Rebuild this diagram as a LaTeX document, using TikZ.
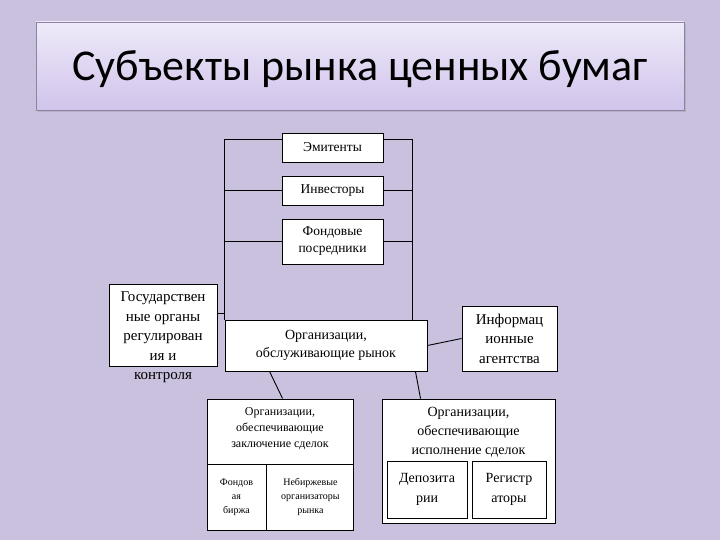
\documentclass[tikz,border=0pt]{standalone}
\usepackage{fontspec}
\setmainfont{Liberation Serif}
\newfontfamily\titlefont{Carlito}
\usetikzlibrary{positioning,shadows,calc}
\definecolor{slidebg}{HTML}{C9C1DD}
\definecolor{titletop}{HTML}{EEEAF9}
\definecolor{titlebot}{HTML}{D1C3EB}
\definecolor{titleline}{HTML}{8C82A4}

\begin{document}
\begin{tikzpicture}[
  x=1pt, y=-1pt,
  box/.style={draw, fill=white, line width=0.9pt, inner sep=0pt, align=center,
              font=\fontsize{13.5}{17}\selectfont},
  bigbox/.style={box, font=\fontsize{15}{19.5}\selectfont},
  cellbox/.style={box, font=\fontsize{10}{14}\selectfont},
  txt/.style={inner sep=0pt, align=center},
  line/.style={line width=0.9pt}
]
\fill[slidebg] (0,0) rectangle (720,540);
\useasboundingbox (0,0) rectangle (720,540);

\node (title) [draw=titleline, top color=titletop, bottom color=titlebot,
    minimum width=648pt, minimum height=88pt,
    drop shadow={opacity=0.25, shadow xshift=2pt, shadow yshift=-2pt}]
    at (360,66) {};
\node (titletxt) [txt, yshift=-3pt] at (title.center)
    {\titlefont\fontsize{44}{48}\selectfont Субъекты рынка ценных бумаг};

\node (emit) [box, minimum width=101pt, minimum height=29pt] at (332.5,147.5) {Эмитенты};
\node (inv) [box, minimum width=101pt, minimum height=29pt] at (332.5,190.5) {Инвесторы};
\node (fond) [box, minimum width=101pt, minimum height=45pt] at (332.5,241.5)
    {Фондовые\\посредники};

\node (serv) [box, font=\fontsize{14}{18}\selectfont, minimum width=202pt, minimum height=51pt]
    at (326,345.5) {Организации,\\обслуживающие рынок};
\coordinate (rbus) at ($(serv.north east)+(-15,0)$);

\node (gos) [box, minimum width=108pt, minimum height=82pt] at (163,325) {};
\node (gostxt) [txt, font=\fontsize{15}{19.5}\selectfont, below=8pt of gos.north]
    {Государствен\\ные органы\\регулирован\\ия и\\контроля};

\node (info) [bigbox, minimum width=95pt, minimum height=65pt] at (509.5,338.5)
    {Информац\\ионные\\агентства};

\node (conc) [box, minimum width=146pt, minimum height=131pt] at (280,464.5) {};
\node (conctxt) [txt, font=\fontsize{12}{16}\selectfont, below=9pt of conc.north]
    {Организации,\\обеспечивающие\\заключение сделок};
\node (birzha) [cellbox, minimum width=59pt, minimum height=66pt, anchor=south west]
    at (conc.south west) {Фондов\\ая\\биржа};
\node (nebirzh) [cellbox, minimum width=87pt, minimum height=66pt, right=0pt of birzha]
    {Небиржевые\\организаторы\\рынка};

\node (exec) [box, minimum width=173pt, minimum height=124pt] at (468.5,461) {};
\node (exectxt) [txt, font=\fontsize{14}{19}\selectfont, below=8pt of exec.north]
    {Организации,\\обеспечивающие\\исполнение сделок};
\node (depo) [bigbox, font=\fontsize{14}{20}\selectfont, minimum width=80pt, minimum height=57pt]
    at (427,489.5) {Депозита\\рии};
\node (reg) [bigbox, font=\fontsize{14}{20}\selectfont, minimum width=74pt, minimum height=57pt]
    at (509,489.5) {Регистр\\аторы};

\draw [line] ([yshift=8pt]emit.west) -| (serv.north west);
\draw [line] (inv.west) -- (inv.west -| serv.north west);
\draw [line] (fond.west) -- (fond.west -| serv.north west);
\draw [line] ([yshift=8pt]emit.east) -| (rbus);
\draw [line] (inv.east) -- (inv.east -| rbus);
\draw [line] (fond.east) -- (fond.east -| rbus);
\draw [line] ([yshift=12pt]gos.east) -- ++(8,0);
\draw [line] (serv.east) -- (info.west);
\draw [line] ([xshift=45pt]serv.south west) -- ([xshift=76pt]conc.north west);
\draw [line] ([xshift=-12pt]serv.south east) -- ([xshift=39pt]exec.north west);

\end{tikzpicture}
\end{document}
